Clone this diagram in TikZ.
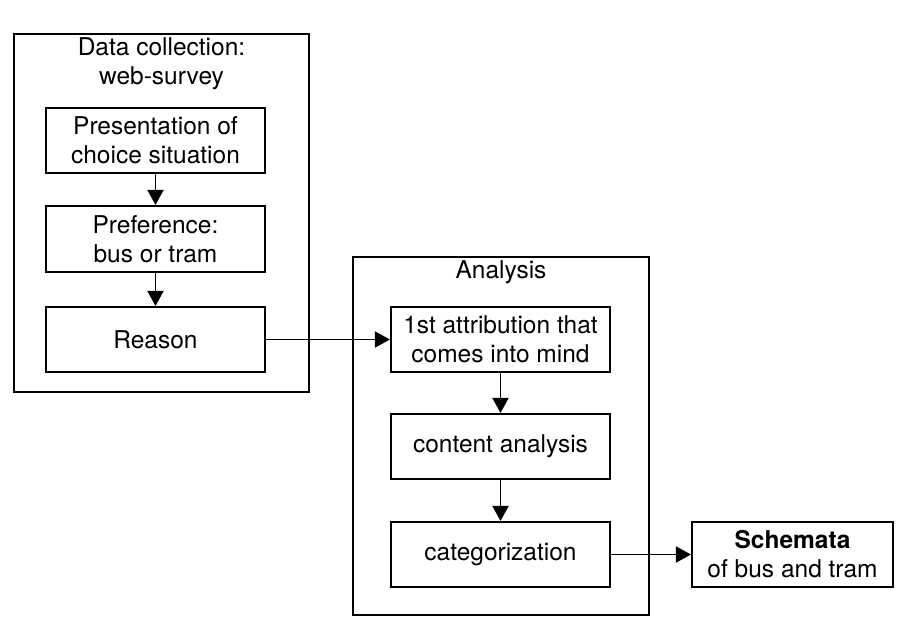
\documentclass[tikz,border=0pt]{standalone}
\usepackage{fontspec}
\setmainfont{TeX Gyre Heros}
\usetikzlibrary{arrows.meta}
\begin{document}
\begin{tikzpicture}[x=1pt,y=-1pt,
  box/.style={draw=black,line width=2.1pt,minimum width=219pt,minimum height=65pt,inner sep=0pt,align=center,font=\fontsize{24.5}{29}\selectfont},
  outer/.style={draw=black,line width=2.1pt,minimum width=295pt,minimum height=358pt,inner sep=0pt},
  lbl/.style={align=center,inner sep=0pt,font=\fontsize{24.5}{29}\selectfont},
  arr/.style={line width=1.8pt,-{Triangle[length=15pt,width=16pt]}}]
\useasboundingbox (0,0) rectangle (907,632);
\node[outer] (dc) at (161.5,213) {};
\node[lbl] (dct) at (161.5,64) {Data collection:\\web-survey};
\node[box] (p1) at (155.5,140.5) {Presentation of\\choice situation};
\node[box,minimum height=66pt] (p2) at (155.5,239) {Preference:\\bus or tram};
\node[box] (p3) at (155.5,339.5) {Reason};
\node[outer,minimum width=296pt] (an) at (501,436) {};
\node[lbl] (ant) at (501,272) {Analysis};
\node[box] (a1) at (500.5,339.5) {1st attribution that\\comes into mind};
\node[box] (a2) at (500.5,446.5) {content analysis};
\node[box] (a3) at (500.5,554.5) {categorization};
\node[box,minimum width=201pt] (sc) at (792.5,554.5) {\textbf{Schemata}\\of bus and tram};
\draw[arr] (p1) -- (p2);
\draw[arr] (p2) -- (p3);
\draw[arr] (p3) -- (a1);
\draw[arr] (a1) -- (a2);
\draw[arr] (a2) -- (a3);
\draw[arr] (a3) -- (sc);
\end{tikzpicture}
\end{document}
